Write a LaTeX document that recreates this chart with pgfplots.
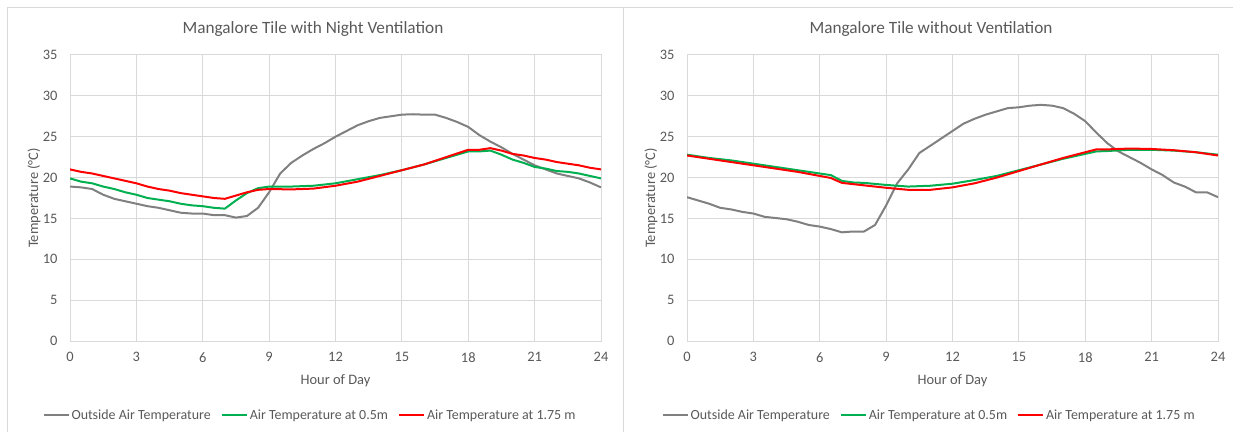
\documentclass[border=0pt]{standalone}
\usepackage{pgfplots}
\pgfplotsset{compat=1.18}
\usepackage{fontspec}
\setmainfont{Carlito}
\definecolor{txt}{HTML}{595959}
\definecolor{grd}{HTML}{D9D9D9}
\definecolor{frm}{HTML}{D9D9D9}
\definecolor{lgray}{HTML}{808080}
\definecolor{lgreen}{HTML}{00B050}
\definecolor{lred}{HTML}{FF0000}

\pgfplotstableread{
h t
0 18.9
0.5 18.8
1 18.6
1.5 17.9
2 17.4
2.5 17.1
3 16.8
3.5 16.5
4 16.3
4.5 16.0
5 15.7
5.5 15.6
6 15.6
6.5 15.4
7 15.4
7.5 15.1
8 15.3
8.5 16.3
9 18.2
9.5 20.5
10 21.8
10.5 22.7
11 23.5
11.5 24.2
12 25.0
12.5 25.7
13 26.4
13.5 26.9
14 27.3
14.5 27.5
15 27.7
15.5 27.75
16 27.7
16.5 27.7
17 27.3
17.5 26.8
18 26.2
18.5 25.2
19 24.4
19.5 23.7
20 22.9
20.5 22.2
21 21.5
21.5 21.0
22 20.5
22.5 20.2
23 19.9
23.5 19.4
24 18.8
}\LGray
\pgfplotstableread{
h t
0 19.9
0.5 19.5
1 19.3
1.5 18.9
2 18.6
2.5 18.2
3 17.9
3.5 17.5
4 17.3
4.5 17.1
5 16.8
5.5 16.6
6 16.5
6.5 16.3
7 16.2
7.5 17.2
8 18.1
8.5 18.7
9 18.9
10 18.9
11 19.0
12 19.3
13 19.8
14 20.3
15 20.9
16 21.6
17 22.4
18 23.2
18.5 23.2
19 23.3
19.5 22.8
20 22.2
20.5 21.8
21 21.3
21.5 21.1
22 20.8
22.5 20.7
23 20.5
23.5 20.2
24 19.9
}\LGreen
\pgfplotstableread{
h t
0 21.0
0.5 20.7
1 20.5
1.5 20.2
2 19.9
2.5 19.6
3 19.3
3.5 18.9
4 18.6
4.5 18.4
5 18.1
5.5 17.9
6 17.7
6.5 17.5
7 17.4
7.5 17.8
8 18.2
8.5 18.5
9 18.6
10 18.55
11 18.65
12 19.0
13 19.5
14 20.2
15 20.9
16 21.6
17 22.5
18 23.4
18.5 23.4
19 23.6
19.5 23.3
20 22.9
20.5 22.7
21 22.4
21.5 22.2
22 21.9
22.5 21.7
23 21.5
23.5 21.2
24 21.0
}\LRed
\pgfplotstableread{
h t
0 17.6
0.5 17.2
1 16.8
1.5 16.3
2 16.1
2.5 15.8
3 15.6
3.5 15.2
4 15.05
4.5 14.9
5 14.6
5.5 14.2
6 14.0
6.5 13.7
7 13.3
7.5 13.4
8 13.4
8.5 14.2
9 16.6
9.5 19.3
10 21.0
10.5 23.0
11 23.9
11.5 24.8
12 25.7
12.5 26.6
13 27.2
13.5 27.7
14 28.1
14.5 28.5
15 28.6
15.5 28.8
16 28.9
16.5 28.8
17 28.5
17.5 27.8
18 26.9
18.5 25.5
19 24.2
19.5 23.2
20 22.5
20.5 21.8
21 21.0
21.5 20.3
22 19.4
22.5 18.9
23 18.2
23.5 18.2
24 17.6
}\RGray
\pgfplotstableread{
h t
0 22.8
1 22.4
2 22.1
3 21.7
4 21.3
5 20.9
6 20.5
6.5 20.3
7 19.6
7.5 19.4
8 19.35
9 19.1
10 18.9
11 19.0
12 19.25
13 19.7
14 20.2
15 20.9
16 21.6
17 22.3
18 22.9
18.5 23.2
19 23.25
20 23.4
21 23.4
22 23.3
23 23.1
24 22.8
}\RGreen
\pgfplotstableread{
h t
0 22.7
1 22.3
2 21.9
3 21.5
4 21.1
5 20.7
6 20.2
6.5 19.95
7 19.35
7.5 19.2
8 19.05
9 18.75
10 18.5
11 18.5
12 18.8
13 19.3
14 20.0
15 20.8
16 21.6
17 22.4
18 23.1
18.5 23.45
19 23.45
20 23.55
21 23.5
22 23.35
23 23.1
24 22.7
}\RRed

\pgfplotsset{mystyle/.style={
  scale only axis, width=531bp, height=286bp,
  xmin=0, xmax=24, ymin=0, ymax=35,
  xtick={0,3,...,24}, ytick={0,5,...,35},
  grid=major, major grid style={draw=grd, line width=1bp},
  axis line style={draw=grd, line width=1bp},
  tick style={draw=none},
  /pgf/number format/assume math mode=true,
  ticklabel style={font=\fontsize{14.5}{16}\selectfont, text=txt},
  xticklabel style={yshift=-8bp},
  yticklabel style={xshift=-9bp},
  xlabel={Hour of Day}, ylabel={Temperature (°C)},
  label style={font=\fontsize{14.5}{16}\selectfont, text=txt},
  xlabel style={at={(axis description cs:0.5,-0.14)}, anchor=center},
  ylabel style={at={(axis description cs:-0.068,0.5)}, anchor=center},
  legend columns=3,
  legend cell align=left,
  legend style={draw=none, fill=none, font=\fontsize{14}{16}\selectfont, text=txt,
    anchor=center, inner sep=0pt,
    /tikz/every even column/.append style={column sep=8bp}},
  legend image code/.code={\draw[#1] (0bp,0bp) -- (25bp,0bp);},
  every axis plot/.append style={line width=2bp, line join=round},
}}

\begin{document}
\begin{tikzpicture}[x=1bp,y=1bp]
\useasboundingbox (0,0) rectangle (1233,431);
\draw[frm, line width=1bp] (7,-2) -- (7,423) -- (623,423);
\draw[frm, line width=1bp] (623,-2) -- (623,423) -- (1236,423);
\node[font=\fontsize{17.3}{19}\selectfont, text=txt] at (313,402) {Mangalore Tile with Night Ventilation};
\node[font=\fontsize{17.3}{19}\selectfont, text=txt] at (931,402) {Mangalore Tile without Ventilation};

\begin{axis}[mystyle, at={(70bp,90bp)}, anchor=south west,
  legend style={at={(0.452,-0.2587)}}]
\addplot[lgray] table[x=h,y=t] {\LGray};
\addlegendentry{Outside Air Temperature}
\addplot[lgreen] table[x=h,y=t] {\LGreen};
\addlegendentry{Air Temperature at 0.5m}
\addplot[lred] table[x=h,y=t] {\LRed};
\addlegendentry{Air Temperature at 1.75 m}
\end{axis}

\begin{axis}[mystyle, at={(687bp,90bp)}, anchor=south west,
  legend style={at={(0.456,-0.2587)}}]
\addplot[lgray] table[x=h,y=t] {\RGray};
\addlegendentry{Outside Air Temperature}
\addplot[lgreen] table[x=h,y=t] {\RGreen};
\addlegendentry{Air Temperature at 0.5m}
\addplot[lred] table[x=h,y=t] {\RRed};
\addlegendentry{Air Temperature at 1.75 m}
\end{axis}
\end{tikzpicture}
\end{document}
